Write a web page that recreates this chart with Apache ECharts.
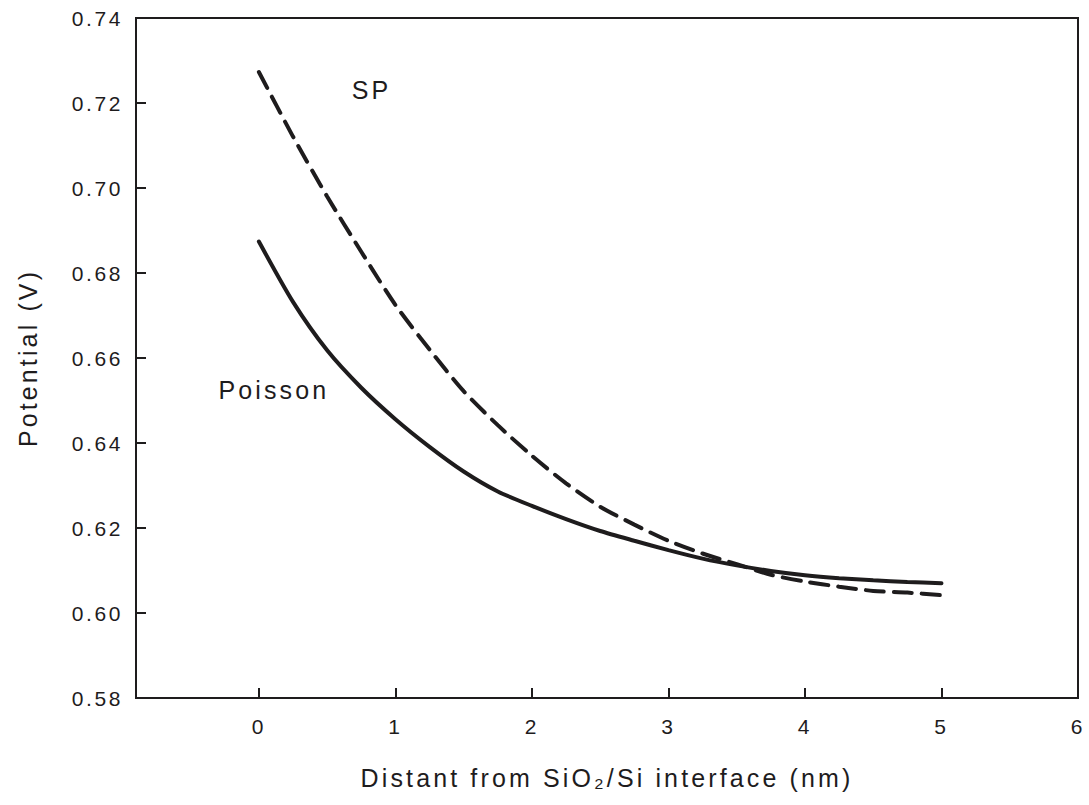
<!DOCTYPE html>
<html>
<head>
<meta charset="utf-8">
<script src="https://cdn.jsdelivr.net/npm/echarts@6/dist/echarts.min.js"></script>
<style>
html,body{margin:0;padding:0;background:#fff;}
#chart{width:1089px;height:805px;}
#chart text{letter-spacing:0.125em;}
</style>
</head>
<body>
<div id="chart"></div>
<script>
const xValues = [0, 0.25, 0.5, 0.75, 1.0, 1.25, 1.5, 1.75, 2.0, 2.25, 2.5, 2.75, 3.0, 3.25, 3.5, 3.75, 4.0, 4.25, 4.5, 4.75, 5.0];
const spValues = [0.7273, 0.7121, 0.6980, 0.6850, 0.6725, 0.6620, 0.6522, 0.6442, 0.6370, 0.6305, 0.6250, 0.6208, 0.6170, 0.6140, 0.6115, 0.6090, 0.6074, 0.6062, 0.6052, 0.6048, 0.6042];
const poissonValues = [0.6874, 0.6732, 0.6618, 0.6530, 0.6456, 0.6391, 0.6333, 0.6286, 0.6252, 0.6221, 0.6193, 0.6170, 0.6148, 0.6128, 0.6112, 0.6099, 0.6089, 0.6082, 0.6077, 0.6073, 0.6070];
const xTicks = [0, 1, 2, 3, 4, 5, 6];
const annotations = [
  { name: 'SP', x: 0.825, y: 0.723 },
  { name: 'Poisson', x: 0.11, y: 0.6525 }
];

const ink = '#1e1c1d';
const font = '"Liberation Sans", Arial, sans-serif';

const chart = echarts.init(document.getElementById('chart'), null, { renderer: 'svg' });
chart.setOption({
  animation: false,
  backgroundColor: '#fff',
  grid: { left: 136, top: 18, right: 11, bottom: 107, show: true, borderColor: ink, borderWidth: 2, backgroundColor: 'transparent' },
  xAxis: {
    type: 'value', min: -0.9, max: 6,
    name: 'Distant from SiO\u2082/Si interface (nm)',
    nameLocation: 'middle', nameGap: 67,
    nameTextStyle: { fontFamily: font, fontSize: 25, color: ink },
    axisLine: { show: true, onZero: false, lineStyle: { color: ink, width: 2 } },
    axisTick: { show: true, inside: true, length: 10, lineStyle: { color: ink, width: 2 }, customValues: xTicks },
    axisLabel: { fontFamily: font, fontSize: 21, color: ink, margin: 18, customValues: xTicks, formatter: v => String(v) },
    splitLine: { show: false }
  },
  yAxis: {
    type: 'value', min: 0.58, max: 0.74, interval: 0.02,
    name: 'Potential (V)', nameLocation: 'middle', nameGap: 96,
    nameTextStyle: { fontFamily: font, fontSize: 25, color: ink },
    axisLine: { show: true, onZero: false, lineStyle: { color: ink, width: 2 } },
    axisTick: { show: true, inside: true, length: 10, lineStyle: { color: ink, width: 2 } },
    axisLabel: { fontFamily: font, fontSize: 21, color: ink, margin: 13, formatter: v => v.toFixed(2) },
    splitLine: { show: false }
  },
  series: [
    {
      name: 'SP', type: 'line', smooth: 0.25, symbol: 'none',
      data: xValues.map((x, i) => [x, spValues[i]]),
      lineStyle: { color: ink, width: 4, type: [18, 10], cap: 'round' }
    },
    {
      name: 'Poisson', type: 'line', smooth: 0.25, symbol: 'none',
      data: xValues.map((x, i) => [x, poissonValues[i]]),
      lineStyle: { color: ink, width: 4, cap: 'round' }
    }
  ]
});

chart.setOption({
  graphic: annotations.map(a => {
    const p = chart.convertToPixel({ gridIndex: 0 }, [a.x, a.y]);
    return {
      type: 'text', x: p[0], y: p[1], silent: true,
      style: { text: a.name, fill: ink, fontFamily: font, fontSize: 25, align: 'center', verticalAlign: 'middle' }
    };
  })
});
</script>
</body>
</html>
